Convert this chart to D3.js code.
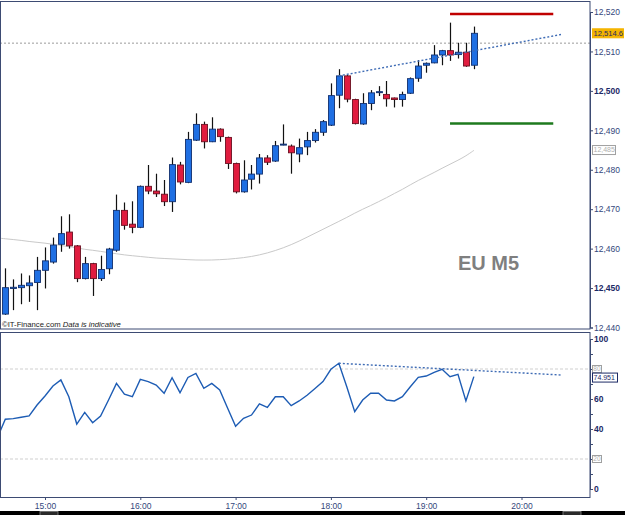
<!DOCTYPE html>
<html>
<head>
<meta charset="utf-8">
<script src="https://cdn.jsdelivr.net/npm/d3@7"></script>
<style>
  body { margin: 0; background: #fff; }
  svg { display: block; font-family: "Liberation Sans", Arial, sans-serif; }
</style>
</head>
<body>
<div id="chart"></div>
<script>
// ---- data ----
var parseTime = d3.timeParse("%H:%M");
var barMinutes = 5;
var firstBar = "14:35";   // first candle
var lineStart = "14:30";  // MA and oscillator start one bar earlier (off the left edge)
var hourTicks = ["15:00", "16:00", "17:00", "18:00", "19:00", "20:00"];

var open = [12443.4, 12449.9, 12450.1, 12450.6, 12451.4, 12454.5, 12456.6, 12461.1, 12464.2, 12460.7,
  12452.4, 12456.2, 12452.4, 12454.9, 12459.6, 12469.7, 12466.2, 12465.4, 12475.8, 12474.6,
  12473.8, 12471.9, 12481.2, 12476.8, 12487.5, 12491.5, 12487.1, 12490.3, 12488.2, 12481.6,
  12474.4, 12477.6, 12478.9, 12483.0, 12482.2, 12486.3, 12486.0, 12484.0, 12485.8, 12487.4,
  12489.5, 12491.3, 12498.9, 12503.8, 12497.8, 12491.6, 12496.8, 12499.6, 12499.1, 12498.2,
  12497.8, 12499.4, 12503.2, 12506.5, 12507.1, 12509.1, 12510.2, 12509.2, 12509.8, 12506.5];
var high = [12455.0, 12452.2, 12453.7, 12453.2, 12457.9, 12460.3, 12462.8, 12468.2, 12468.7, 12460.9,
  12457.9, 12456.4, 12458.2, 12460.2, 12473.7, 12471.7, 12472.0, 12476.0, 12481.2, 12479.0,
  12477.4, 12483.1, 12482.0, 12489.6, 12494.3, 12492.2, 12493.3, 12490.5, 12488.4, 12481.8,
  12482.4, 12481.2, 12484.0, 12483.7, 12487.3, 12491.5, 12486.4, 12487.9, 12489.6, 12490.3,
  12492.6, 12501.9, 12505.5, 12504.0, 12498.0, 12499.4, 12500.2, 12501.2, 12502.5, 12498.3,
  12499.8, 12503.4, 12507.8, 12507.2, 12511.6, 12510.4, 12517.3, 12512.2, 12512.2, 12516.3];
var low = [12443.2, 12444.4, 12445.9, 12446.5, 12444.4, 12449.9, 12456.2, 12459.2, 12460.0, 12451.5,
  12452.2, 12448.0, 12451.8, 12453.5, 12459.2, 12464.8, 12463.9, 12465.2, 12473.8, 12473.1,
  12470.8, 12469.3, 12476.3, 12476.6, 12487.3, 12485.4, 12487.0, 12487.1, 12480.2, 12474.0,
  12474.2, 12475.0, 12476.5, 12481.2, 12482.0, 12486.2, 12479.0, 12481.9, 12483.7, 12486.9,
  12488.6, 12491.1, 12495.6, 12497.1, 12491.5, 12491.4, 12495.1, 12498.7, 12496.0, 12495.8,
  12496.0, 12499.2, 12502.3, 12504.6, 12507.0, 12506.5, 12507.6, 12508.2, 12506.1, 12505.5];
var close = [12450.1, 12450.2, 12450.7, 12451.3, 12454.5, 12456.9, 12460.9, 12463.8, 12460.7, 12452.4,
  12456.2, 12452.4, 12454.7, 12459.9, 12469.7, 12465.9, 12465.4, 12475.8, 12474.6, 12473.9,
  12471.9, 12481.3, 12476.9, 12487.7, 12491.5, 12487.1, 12490.3, 12488.4, 12481.6, 12474.4,
  12477.4, 12478.9, 12483.0, 12481.9, 12486.1, 12486.5, 12484.3, 12485.6, 12487.4, 12489.5,
  12492.2, 12498.8, 12503.8, 12497.9, 12491.7, 12496.8, 12499.5, 12499.8, 12498.0, 12497.8,
  12499.1, 12503.1, 12506.3, 12507.0, 12509.1, 12510.2, 12509.1, 12509.8, 12506.3, 12514.6];

var maValues = [12462.7, 12462.5, 12462.3, 12462.1, 12461.8, 12461.6, 12461.4, 12461.1, 12460.8, 12460.5,
  12460.2, 12459.8, 12459.6, 12459.3, 12459.0, 12458.7, 12458.4, 12458.2, 12458.0, 12457.8,
  12457.6, 12457.5, 12457.4, 12457.3, 12457.2, 12457.1, 12457.1, 12457.1, 12457.2, 12457.3,
  12457.5, 12457.7, 12458.0, 12458.4, 12458.9, 12459.5, 12460.2, 12461.0, 12461.9, 12462.9,
  12463.9, 12464.9, 12465.9, 12466.9, 12467.9, 12469.0, 12470.0, 12470.9, 12471.9, 12472.9,
  12474.0, 12475.0, 12476.2, 12477.3, 12478.3, 12479.3, 12480.4, 12481.4, 12482.4, 12483.5, 12484.9];

var oscValues = [34.1, 46.5, 46.9, 47.8, 48.7, 56.0, 62.0, 68.7, 72.7, 61.5,
  43.3, 51.1, 44.2, 48.7, 59.3, 70.4, 63.3, 61.5, 73.1, 71.6,
  69.3, 63.8, 74.2, 64.2, 74.4, 77.1, 67.1, 70.4, 66.0, 53.8,
  41.8, 47.1, 49.3, 56.7, 54.4, 61.5, 61.5, 55.6, 58.7, 62.5,
  67.0, 71.6, 79.8, 83.8, 68.2, 51.6, 59.3, 63.8, 63.8, 59.3,
  58.7, 61.6, 68.2, 74.4, 75.3, 77.8, 79.8, 74.9, 76.4, 58.7, 74.9];

var priceTicks = [12440, 12450, 12460, 12470, 12480, 12490, 12500, 12510, 12520];
var boldPriceTicks = [12450, 12500];
var oscTicks = [0, 10, 20, 30, 40, 50, 60, 70, 80, 90, 100];
var oscLabelTicks = [0, 40, 60, 100];
var oscLevels = [80, 20];

// drawn objects, bar index -> value
var priceTrend = [[42, 12503.8], [70, 12514.3]];
var oscTrend = [[42, 83.8], [70, 76.0]];
var targetBars = [56, 69];
var targetUp = 12519.5, targetDown = 12491.7;
var markLevel = 12512.1;
var lastPrice = 12514.6, lastMa = 12485, lastOsc = 74.951;

// ---- setup ----
var W = 625, H = 515;
var svg = d3.select("#chart").append("svg").attr("width", W).attr("height", H);

function barTime(i) { return d3.timeMinute.offset(parseTime(firstBar), i * barMinutes); }
function lineTime(i) { return d3.timeMinute.offset(parseTime(lineStart), i * barMinutes); }

var x = d3.scaleTime()
  .domain([parseTime(hourTicks[0]), parseTime(hourTicks[5])])
  .range([45, 521.5]);
var y = d3.scaleLinear().domain([12440, 12520]).range([327.5, 12]);
var yOsc = d3.scaleLinear().domain([0, 100]).range([489, 339]);

var navy = "#1c2a66", frame = "#3d4b73";

var defs = svg.append("defs");
defs.append("clipPath").attr("id", "clipMain").append("rect")
  .attr("x", 1).attr("y", 2).attr("width", 589).attr("height", 327);
defs.append("clipPath").attr("id", "clipOsc").append("rect")
  .attr("x", 1).attr("y", 333).attr("width", 589).attr("height", 164);

// ---- main panel ----
var main = svg.append("g").attr("clip-path", "url(#clipMain)");

main.append("line")
  .attr("x1", 0).attr("x2", 590)
  .attr("y1", y(markLevel)).attr("y2", y(markLevel))
  .attr("stroke", "#9a9a9a").attr("stroke-dasharray", "2,2");

var bars = d3.range(open.length).map(function(i) {
  return { t: barTime(i), o: open[i], h: high[i], l: low[i], c: close[i] };
});
var maData = maValues.map(function(v, i) { return { t: lineTime(i), v: v }; });

main.append("path")
  .datum(maData)
  .attr("fill", "none").attr("stroke", "#c9c9c9").attr("stroke-width", 1)
  .attr("d", d3.line().x(function(d) { return x(d.t); }).y(function(d) { return y(d.v); }).curve(d3.curveBasis));

var candle = main.selectAll(".candle").data(bars).enter().append("g").attr("class", "candle");
candle.append("line")
  .attr("x1", function(d) { return Math.round(x(d.t)) + 0.5; })
  .attr("x2", function(d) { return Math.round(x(d.t)) + 0.5; })
  .attr("y1", function(d) { return y(d.h); })
  .attr("y2", function(d) { return y(d.l); })
  .attr("stroke", "#111").attr("stroke-width", 1.2);
candle.append("rect")
  .attr("x", function(d) { return Math.round(x(d.t)) - 2.5; })
  .attr("width", 6)
  .attr("y", function(d) { return y(Math.max(d.o, d.c)); })
  .attr("height", function(d) { return Math.max(1, y(Math.min(d.o, d.c)) - y(Math.max(d.o, d.c))); })
  .attr("fill", function(d) { return d.c >= d.o ? "#1f6fe3" : "#e01c3f"; })
  .attr("stroke", function(d) { return d.c >= d.o ? "#12306e" : "#6a1020"; })
  .attr("stroke-width", 0.9);

main.append("line")
  .attr("x1", x(barTime(priceTrend[0][0]))).attr("y1", y(priceTrend[0][1]))
  .attr("x2", x(barTime(priceTrend[1][0]))).attr("y2", y(priceTrend[1][1]))
  .attr("stroke", "#3f6cb5").attr("stroke-width", 1.4).attr("stroke-dasharray", "2,2");

[[targetUp, "#c00000"], [targetDown, "#1e7a1e"]].forEach(function(p) {
  main.append("line")
    .attr("x1", x(barTime(targetBars[0]))).attr("x2", x(barTime(targetBars[1])))
    .attr("y1", y(p[0])).attr("y2", y(p[0]))
    .attr("stroke", p[1]).attr("stroke-width", 2.5);
});

main.append("text")
  .attr("x", 458).attr("y", 270)
  .attr("font-size", 20).attr("font-weight", "bold").attr("fill", "#7f7f7f")
  .text("EU M5");

var copy = main.append("text").attr("x", 2).attr("y", 327).attr("font-size", 7.7).attr("fill", "#1a1a1a");
copy.append("tspan").text("©IT-Finance.com  ");
copy.append("tspan").attr("font-style", "italic").text("Data is indicative");

svg.append("rect").attr("x", 0.5).attr("y", 1.5).attr("width", 589.5).attr("height", 327.5)
  .attr("fill", "none").attr("stroke", frame);

// right price axis
var yAxis = svg.append("g").attr("transform", "translate(590,0)")
  .call(d3.axisRight(y).tickValues(priceTicks).tickSize(3).tickPadding(1).tickFormat(d3.format(",")));
yAxis.select(".domain").attr("stroke", frame);
yAxis.selectAll(".tick line").attr("stroke", frame);
yAxis.selectAll(".tick text")
  .attr("font-size", 8.5)
  .attr("font-family", "Liberation Sans, Arial, sans-serif")
  .attr("fill", function(d) { return boldPriceTicks.indexOf(d) >= 0 ? navy : "#34477c"; })
  .attr("font-weight", function(d) { return boldPriceTicks.indexOf(d) >= 0 ? "bold" : "normal"; });

// value boxes
function valueBox(yPos, label, w, fill, stroke, color, fs) {
  svg.append("rect").attr("x", 592.5).attr("y", yPos - 4.5).attr("width", w).attr("height", 9)
    .attr("fill", fill).attr("stroke", stroke).attr("stroke-width", 1);
  svg.append("text").attr("x", 593.5).attr("y", yPos).attr("dy", "0.35em")
    .attr("font-size", fs).attr("fill", color).text(label);
}
valueBox(y(lastPrice), d3.format(",.1f")(lastPrice), 31, "#f4b400", "#f4b400", navy, 7.6);
valueBox(y(lastMa), d3.format(",")(lastMa), 23, "#fff", "#a0a0a0", "#b0b0b0", 7);

// ---- oscillator panel ----
var osc = svg.append("g").attr("clip-path", "url(#clipOsc)");
oscLevels.forEach(function(v) {
  osc.append("line").attr("x1", 0).attr("x2", 590).attr("y1", yOsc(v)).attr("y2", yOsc(v))
    .attr("stroke", "#cfcfcf").attr("stroke-dasharray", "3,2");
});
var oscData = oscValues.map(function(v, i) { return { t: lineTime(i), v: v }; });
osc.append("path").datum(oscData)
  .attr("fill", "none").attr("stroke", "#1d5cb4").attr("stroke-width", 1.4)
  .attr("d", d3.line().x(function(d) { return x(d.t); }).y(function(d) { return yOsc(d.v); }));
osc.append("line")
  .attr("x1", x(barTime(oscTrend[0][0]))).attr("y1", yOsc(oscTrend[0][1]))
  .attr("x2", x(barTime(oscTrend[1][0]))).attr("y2", yOsc(oscTrend[1][1]))
  .attr("stroke", "#3f6cb5").attr("stroke-width", 1.4).attr("stroke-dasharray", "2,2");

svg.append("rect").attr("x", 0.5).attr("y", 332.5).attr("width", 589.5).attr("height", 165)
  .attr("fill", "none").attr("stroke", frame);

var oAxis = svg.append("g").attr("transform", "translate(590,0)")
  .call(d3.axisRight(yOsc).tickValues(oscTicks).tickSize(3).tickPadding(1)
    .tickFormat(function(d) { return oscLabelTicks.indexOf(d) >= 0 ? d : ""; }));
oAxis.select(".domain").attr("stroke", frame);
oAxis.selectAll(".tick line").attr("stroke", frame);
oAxis.selectAll(".tick text").attr("font-size", 8.5).attr("font-weight", "bold").attr("fill", navy)
  .attr("font-family", "Liberation Sans, Arial, sans-serif");

oscLevels.forEach(function(v) {
  svg.append("rect").attr("x", 592.5).attr("y", yOsc(v) - 3.5).attr("width", 9).attr("height", 7)
    .attr("fill", "#fff").attr("stroke", "#a0a0a0");
  svg.append("text").attr("x", 593.3).attr("y", yOsc(v)).attr("dy", "0.35em")
    .attr("font-size", 6.5).attr("fill", "#b0b0b0").text(v);
});
valueBox(yOsc(lastOsc) + 1, d3.format(".3f")(lastOsc), 25, "#fff", navy, navy, 7);

// ---- time axis ----
var xAxis = svg.append("g").attr("transform", "translate(0,497)")
  .call(d3.axisBottom(x).tickValues(hourTicks.map(parseTime)).tickSize(3).tickPadding(3)
    .tickFormat(d3.timeFormat("%H:%M")));
xAxis.select(".domain").remove();
xAxis.selectAll(".tick line").attr("stroke", frame);
xAxis.selectAll(".tick text").attr("font-size", 8.5).attr("fill", "#34477c")
  .attr("font-family", "Liberation Sans, Arial, sans-serif");

// bottom scroll strip
svg.append("rect").attr("x", 0).attr("y", 511).attr("width", W).attr("height", 4).attr("fill", "#000");
[40, 563].forEach(function(px) {
  svg.append("rect").attr("x", px).attr("y", 511.5).attr("width", 18).attr("height", 4)
    .attr("fill", "#2a2a2a").attr("stroke", "#888").attr("stroke-width", 0.8);
});
</script>
</body>
</html>
